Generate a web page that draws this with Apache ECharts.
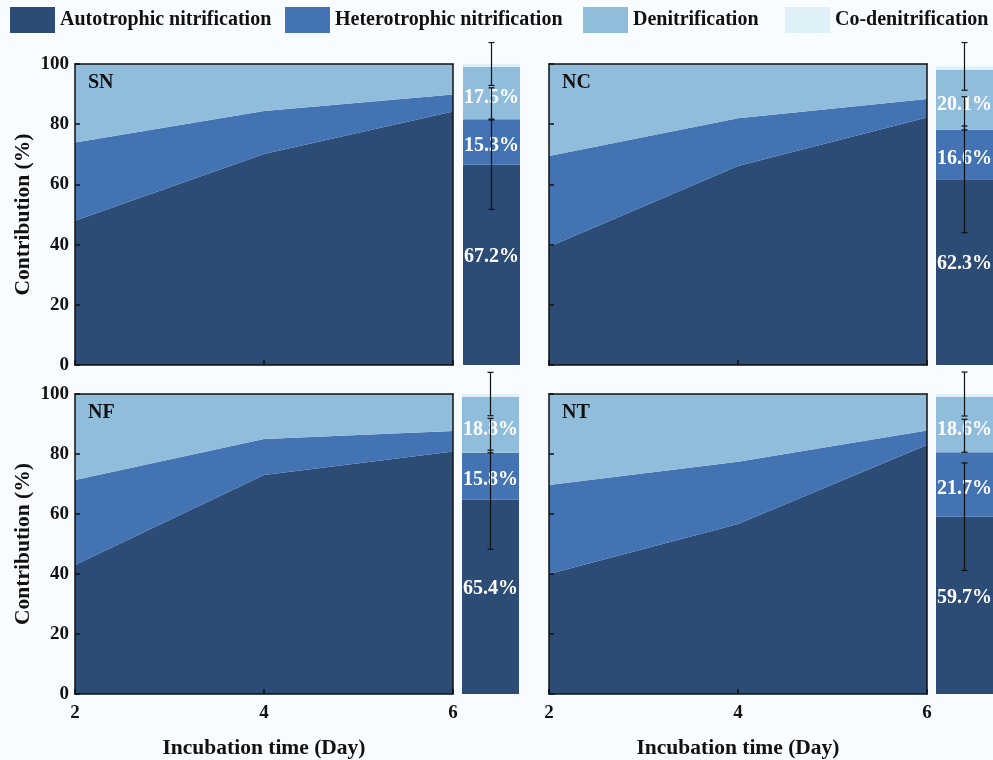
<!DOCTYPE html>
<html>
<head>
<meta charset="utf-8">
<script src="https://cdn.jsdelivr.net/npm/echarts@6/dist/echarts.min.js"></script>
<style>html,body{margin:0;padding:0;background:#f8fcfe;}#c{width:993px;height:760px;}</style>
</head>
<body>
<div id="c"></div>
<script>
// ---- data ----
const days = ['2', '4', '6'];
const panelNames = ['SN', 'NC', 'NF', 'NT'];
const seriesNames = ['Autotrophic nitrification', 'Heterotrophic nitrification', 'Denitrification', 'Co-denitrification'];

// time-course contributions (%), per panel
const autoSN = [47.9, 70.1, 84.2];
const heteroSN = [26.0, 14.3, 5.7];
const denitSN = [26.1, 15.6, 10.1];
const autoNC = [39.3, 66.1, 82.2];
const heteroNC = [30.1, 15.9, 6.2];
const denitNC = [30.6, 18.0, 11.6];
const autoNF = [43.0, 73.0, 80.8];
const heteroNF = [28.3, 12.0, 6.9];
const denitNF = [28.7, 15.0, 12.3];
const autoNT = [40.0, 56.7, 83.0];
const heteroNT = [29.7, 20.7, 4.8];
const denitNT = [30.3, 22.6, 12.2];

// mean contributions (%) shown as stacked bars, order SN, NC, NF, NT
const barAuto = [67.2, 62.3, 65.4, 59.7];
const barHetero = [15.3, 16.6, 15.8, 21.7];
const barDenit = [17.5, 20.1, 18.8, 18.6];
const barCoDenit = [1.0, 1.2, 1.0, 1.0];
// error bars
const errAuto = [15.0, 17.9, 16.7, 18.1];
const errHeteroPlus = [10.5, 11.1, 11.6, 11.1];
const errTotal = [7.2, 8.0, 7.3, 7.4];

// ---- styling ----
const colors = ['#2d4c75', '#4373b3', '#91bddc', '#dff1f8'];
const FONT = 'Liberation Serif';
const areaData = [
  [autoSN, heteroSN, denitSN],
  [autoNC, heteroNC, denitNC],
  [autoNF, heteroNF, denitNF],
  [autoNT, heteroNT, denitNT]
];

const layout = [
  {area: {left: 75, top: 64, width: 378, height: 301}, bar: {left: 463, top: 64, width: 57, height: 301}, yLabels: true, xLabels: false},
  {area: {left: 549, top: 64, width: 378, height: 301}, bar: {left: 936, top: 64, width: 57, height: 301}, yLabels: false, xLabels: false},
  {area: {left: 75, top: 394, width: 378, height: 300}, bar: {left: 462, top: 394, width: 57, height: 300}, yLabels: true, xLabels: true},
  {area: {left: 549, top: 394, width: 378, height: 300}, bar: {left: 936, top: 394, width: 57, height: 300}, yLabels: false, xLabels: true}
];
const labelOffsets = [[0, -8], [0, 4], [0, 5]];

const grids = [], xAxes = [], yAxes = [], series = [], titles = [];
const lineStyle = {color: '#111', width: 1.5};

layout.forEach((L, p) => {
  grids.push(Object.assign({containLabel: false, outerBoundsMode: 'none'}, L.area));
  grids.push(Object.assign({containLabel: false, outerBoundsMode: 'none'}, L.bar));
  const ga = 2 * p, gb = 2 * p + 1;
  // x axes
  xAxes.push({
    type: 'category', gridIndex: ga, data: days, boundaryGap: false, position: 'bottom', z: 5,
    axisLine: {show: true, onZero: false, lineStyle},
    axisTick: {show: true, inside: true, length: 5, lineStyle},
    axisLabel: {show: L.xLabels, color: '#111', fontFamily: FONT, fontWeight: 'bold', fontSize: 19, margin: 10},
    splitLine: {show: false},
    name: L.xLabels ? 'Incubation time (Day)' : '', nameLocation: 'middle', nameGap: 43,
    nameTextStyle: {color: '#111', fontFamily: FONT, fontWeight: 'bold', fontSize: 21.5}
  });
  xAxes.push({
    type: 'category', gridIndex: ga, data: days, boundaryGap: false, position: 'top', z: 5,
    axisLine: {show: true, onZero: false, lineStyle},
    axisTick: {show: false}, axisLabel: {show: false}, splitLine: {show: false}
  });
  xAxes.push({type: 'category', gridIndex: gb, data: [panelNames[p]], show: false, boundaryGap: true});
  // y axes
  yAxes.push({
    type: 'value', gridIndex: ga, min: 0, max: 100, interval: 20, position: 'left', z: 5,
    axisLine: {show: true, onZero: false, lineStyle},
    axisTick: {show: true, inside: true, length: 5, lineStyle},
    axisLabel: {show: L.yLabels, color: '#111', fontFamily: FONT, fontWeight: 'bold', fontSize: 19, margin: 6},
    splitLine: {show: false},
    name: L.yLabels ? 'Contribution (%)' : '', nameLocation: 'middle', nameGap: 41,
    nameTextStyle: {color: '#111', fontFamily: FONT, fontWeight: 'bold', fontSize: 21.5}
  });
  yAxes.push({
    type: 'value', gridIndex: ga, min: 0, max: 100, position: 'right', z: 5,
    axisLine: {show: true, onZero: false, lineStyle},
    axisTick: {show: false}, axisLabel: {show: false}, splitLine: {show: false}
  });
  yAxes.push({type: 'value', gridIndex: gb, min: 0, max: 101, show: false});

  const xa = 3 * p, xb = 3 * p + 2, ya = 3 * p, yb = 3 * p + 2;
  // stacked areas
  areaData[p].forEach((vals, k) => {
    series.push({
      type: 'line', name: seriesNames[k], xAxisIndex: xa, yAxisIndex: ya, stack: 'area' + p,
      data: vals,
      symbol: 'none', smooth: false,
      lineStyle: {width: 0},
      itemStyle: {color: colors[k]},
      areaStyle: {color: colors[k], opacity: 1},
      silent: true, z: 2
    });
  });
  // stacked bar
  const barVals = [barAuto[p], barHetero[p], barDenit[p], barCoDenit[p]];
  barVals.forEach((v, k) => {
    series.push({
      type: 'bar', name: seriesNames[k], xAxisIndex: xb, yAxisIndex: yb, stack: 'bar' + p,
      data: [v], barWidth: '100%',
      itemStyle: {color: colors[k]},
      label: {
        show: k < 3, position: 'inside', offset: labelOffsets[k] || [0, 0], formatter: '{c}%', color: '#fff',
        fontFamily: FONT, fontWeight: 'bold', fontSize: 20
      },
      silent: true, z: 2
    });
  });
  // error bars
  const a = barAuto[p], h = a + barHetero[p];
  const tot = a + barHetero[p] + barDenit[p] + barCoDenit[p];
  const errData = [
    [0, a - errAuto[p], a + errAuto[p]],
    [0, h, h + errHeteroPlus[p]],
    [0, tot - errTotal[p], tot + errTotal[p]]
  ];
  series.push({
    type: 'custom', xAxisIndex: xb, yAxisIndex: yb, z: 10, silent: true,
    data: errData, encode: {x: 0, y: [1, 2]},
    renderItem: function (params, api) {
      const lo = api.coord([api.value(0), api.value(1)]);
      const hi = api.coord([api.value(0), api.value(2)]);
      const w = 3;
      const st = {stroke: '#111', lineWidth: 1.2};
      return {
        type: 'group', children: [
          {type: 'line', shape: {x1: lo[0], y1: lo[1], x2: hi[0], y2: hi[1]}, style: st},
          {type: 'line', shape: {x1: lo[0] - w, y1: lo[1], x2: lo[0] + w, y2: lo[1]}, style: st},
          {type: 'line', shape: {x1: hi[0] - w, y1: hi[1], x2: hi[0] + w, y2: hi[1]}, style: st}
        ]
      };
    }
  });
  titles.push({
    text: panelNames[p], left: L.area.left + 8, top: L.area.top + 4,
    textStyle: {fontFamily: FONT, fontWeight: 'bold', fontSize: 20, color: '#111'}
  });
});

const legendLefts = [10, 285, 583, 785];
const legends = seriesNames.map((n, i) => ({
  left: legendLefts[i], top: 7, padding: 0, itemWidth: 45, itemHeight: 26,
  selectedMode: false, icon: 'rect', data: [n],
  textStyle: {fontFamily: FONT, fontWeight: 'bold', fontSize: 20, color: '#111'}
}));

const chart = echarts.init(document.getElementById('c'), null, {renderer: 'canvas'});
chart.setOption({
  backgroundColor: '#f8fcfe',
  animation: false,
  title: titles,
  legend: legends,
  grid: grids,
  xAxis: xAxes,
  yAxis: yAxes,
  series: series
});
</script>
</body>
</html>
